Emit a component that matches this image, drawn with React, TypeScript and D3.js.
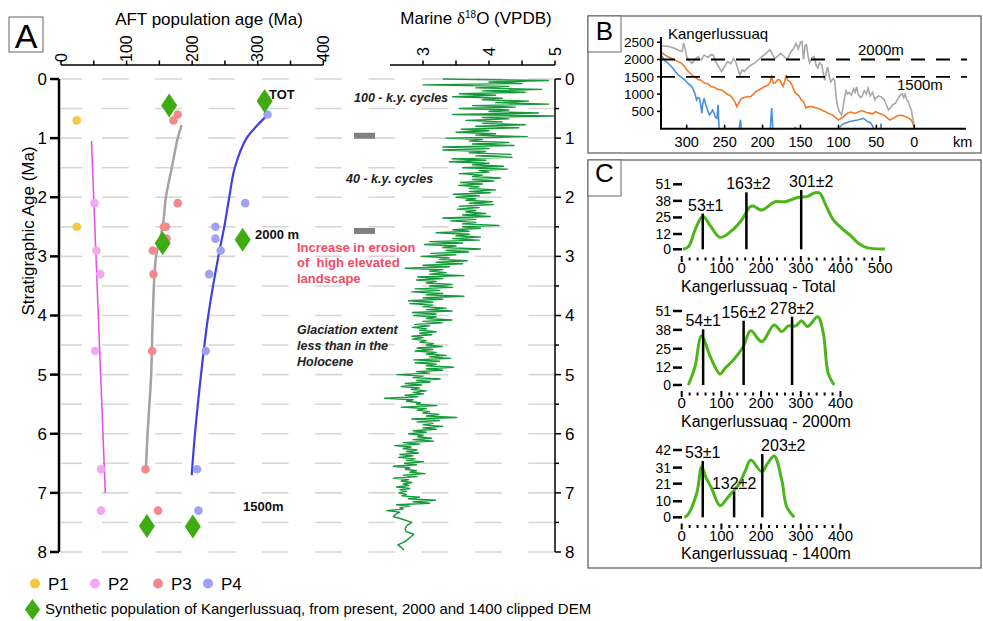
import React from 'react';
import * as d3 from 'd3';

const FONT = '"Liberation Sans", Arial, Helvetica, sans-serif';

// ---------- Panel A: AFT population age (Ma) vs stratigraphic age (Ma)
const p1Ages = [
  { aft: 24, strat: 0.7 },
  { aft: 24, strat: 2.5 },
];
const p2Ages = [
  { aft: 51, strat: 2.1 }, { aft: 54, strat: 2.9 }, { aft: 60, strat: 3.3 },
  { aft: 52, strat: 4.6 }, { aft: 61, strat: 6.6 }, { aft: 61, strat: 7.3 },
];
const p3Ages = [
  { aft: 178, strat: 0.6 }, { aft: 171.5, strat: 0.7 }, { aft: 178, strat: 2.1 },
  { aft: 157, strat: 2.5 }, { aft: 160, strat: 2.5 }, { aft: 161, strat: 2.7 },
  { aft: 140, strat: 2.9 }, { aft: 141, strat: 3.3 }, { aft: 139, strat: 4.6 },
  { aft: 129, strat: 6.6 }, { aft: 148, strat: 7.3 },
];
const p4Ages = [
  { aft: 315, strat: 0.6 }, { aft: 281, strat: 2.1 }, { aft: 235.5, strat: 2.5 },
  { aft: 235.5, strat: 2.7 }, { aft: 243.5, strat: 2.9 }, { aft: 226, strat: 3.3 },
  { aft: 220.7, strat: 4.6 }, { aft: 207.5, strat: 6.6 }, { aft: 209.5, strat: 7.3 },
];
const syntheticAges = [
  { aft: 165, strat: 0.45 }, { aft: 310.5, strat: 0.37 },
  { aft: 155, strat: 2.78 }, { aft: 277, strat: 2.72 },
  { aft: 131, strat: 7.56 }, { aft: 201, strat: 7.57 },
];
const trendP2 = [[46.5, 1.05], [67.5, 7.0]];
const trendP3 = [[184, 0.78], [178, 1.0], [169, 1.5], [160, 2.0], [155, 2.5], [145, 3.0], [140, 4.0], [137.5, 5.0], [132, 6.0], [129.4, 6.6]];
const trendP4 = [[314, 0.62], [298, 0.8], [283, 1.0], [265, 1.5], [256.6, 2.0], [249, 2.5], [240, 3.0], [224.6, 4.0], [213.5, 5.0], [204.3, 6.0], [199.3, 6.7]];

const aftTicks = [0, 100, 200, 300, 400];
const stratTicks = [0, 1, 2, 3, 4, 5, 6, 7, 8];

// Marine d18O (per mil VPDB), sampled every 0.025 Ma from 0 Ma
const d18oStep = 0.025;
const d18oValues = [
  3.3, 4.9, 4.0, 4.5, 3.0, 4.3, 3.8, 4.8, 3.9, 4.55, 3.55, 4.1, 3.45, 4.2, 3.9, 4.6,
  4.1, 4.9, 3.75, 4.4, 3.55, 4.3, 4.0, 4.75, 3.45, 4.98, 3.9, 4.3, 3.65, 4.2, 3.9, 4.55,
  3.8, 4.45, 3.58, 4.0, 3.5, 4.1, 3.8, 4.58, 3.35, 3.9, 3.7, 4.3, 3.75, 4.38, 3.3, 4.0,
  3.3, 3.95, 3.7, 4.33, 3.8, 4.35, 3.44, 3.95, 3.4, 4.0, 3.75, 4.22, 3.6, 4.28, 3.85, 4.0,
  3.55, 3.9, 3.75, 4.17, 3.75, 4.07, 3.57, 3.9, 3.54, 3.85, 3.7, 4.1, 3.7, 4.02, 3.46, 3.85,
  3.5, 3.8, 3.65, 4.05, 3.7, 4.07, 3.55, 3.85, 3.52, 3.8, 3.65, 3.95, 3.6, 4.02, 3.3, 3.8,
  3.42, 3.8, 3.6, 4.15, 3.6, 3.87, 3.45, 3.7, 3.2, 3.7, 3.5, 3.87, 3.45, 3.85, 3.1, 3.6,
  3.02, 3.5, 3.3, 3.87, 3.35, 3.69, 3.12, 3.5, 2.97, 3.4, 3.25, 3.67, 3.2, 3.6, 3.0, 3.4,
  2.73, 3.3, 3.1, 3.35, 3.1, 3.62, 2.92, 3.3, 2.9, 3.2, 3.05, 3.44, 3.1, 3.45, 2.88, 3.25,
  2.83, 3.3, 3.05, 3.62, 3.0, 3.3, 2.78, 3.15, 2.8, 3.15, 3.0, 3.35, 3.05, 3.44, 2.84, 3.2,
  2.86, 3.2, 3.05, 3.44, 3.0, 3.29, 2.88, 3.1, 2.84, 3.05, 2.95, 3.2, 2.95, 3.13, 2.83, 3.0,
  2.84, 3.05, 2.95, 3.16, 3.05, 3.29, 2.91, 3.15, 2.88, 3.2, 3.05, 3.35, 3.1, 3.42, 2.86, 3.25,
  2.88, 3.2, 3.05, 3.46, 3.05, 3.3, 2.9, 3.1, 2.6, 3.0, 2.85, 3.26, 2.9, 3.11, 2.73, 2.98,
  2.67, 2.95, 2.82, 3.05, 2.85, 3.01, 2.73, 2.92, 2.42, 2.85, 2.75, 2.96, 2.9, 3.21, 2.67, 3.05,
  2.91, 3.1, 3.0, 3.24, 3.05, 3.51, 2.83, 3.25, 2.91, 3.15, 3.0, 3.3, 3.0, 3.2, 2.85, 3.05,
  2.78, 3.0, 2.92, 3.13, 2.85, 3.16, 2.7, 2.95, 2.57, 2.82, 2.7, 2.91, 2.75, 2.93, 2.65, 2.85,
  2.63, 2.88, 2.75, 3.01, 2.72, 2.9, 2.55, 2.8, 2.73, 2.9, 2.8, 3.03, 2.7, 2.91, 2.55, 2.78,
  2.67, 2.83, 2.7, 2.78, 2.6, 2.8, 2.65, 2.75, 2.63, 2.75, 2.68, 2.95, 2.78, 3.19, 2.85, 3.1,
  2.6, 2.8, 2.65, 2.7, 2.45, 2.65,
];
const d18oTail = [[7.35, 2.6], [7.4, 2.55], [7.45, 2.7], [7.5, 2.83], [7.55, 2.76], [7.6, 2.73], [7.65, 2.74], [7.7, 2.86], [7.76, 2.8], [7.82, 2.73], [7.88, 2.62], [7.93, 2.68], [7.97, 2.71]];
const d18oTicks = [3, 4, 5];

// ---------- Panel B: elevation profiles (distance km, elevation m)
const profileGray = [[335, 2400], [325, 2380], [315, 2320], [310, 2260], [306, 2230], [304, 2480], [302, 2300], [300, 2080], [296, 1950], [293, 1890], [289, 2000], [285, 2080], [281, 1980], [277, 2130], [272, 2060], [268, 2140], [265, 2130], [261, 1900], [258, 1800], [254, 1650], [250, 1800], [246, 1940], [242, 1880], [238, 2030], [235, 1900], [232, 1700], [230, 1550], [227, 1700], [224, 1650], [220, 1760], [215, 1840], [210, 1900], [205, 2000], [201, 2080], [197, 2150], [193, 2230], [190, 2280], [187, 2150], [184, 2030], [180, 2100], [176, 2180], [172, 2100], [168, 2000], [165, 2100], [162, 2250], [159, 2320], [156, 2470], [153, 2300], [150, 2500], [148, 2520], [146, 2000], [144, 2400], [142, 2420], [140, 2100], [138, 1900], [135, 2050], [132, 2080], [129, 1800], [127, 1750], [125, 1900], [122, 1850], [120, 1600], [118, 1400], [116, 1650], [114, 1780], [112, 1500], [110, 1350], [107, 1450], [105, 1400], [103, 900], [101, 640], [99, 500], [96, 400], [94, 600], [92, 900], [90, 1100], [88, 1000], [86, 1050], [83, 970], [80, 1150], [78, 1050], [76, 1210], [74, 1000], [71, 900], [69, 930], [66, 1100], [63, 1000], [61, 1170], [58, 950], [55, 1050], [52, 830], [50, 900], [47, 950], [44, 920], [40, 850], [37, 700], [34, 540], [31, 620], [28, 700], [25, 730], [22, 850], [19, 950], [16, 1020], [14, 900], [12, 1000], [10, 830], [8, 780], [6, 650], [4, 540], [2, 300], [0, 50], [-1, -100]];
const profileOrange = [[335, 2250], [330, 2150], [325, 2080], [320, 2030], [315, 1980], [310, 1930], [307, 1890], [303, 1800], [300, 1700], [297, 1640], [293, 1550], [289, 1500], [285, 1420], [281, 1400], [277, 1320], [272, 1300], [268, 1220], [264, 1200], [260, 1150], [255, 1120], [251, 1080], [247, 1000], [243, 960], [240, 900], [237, 800], [234, 640], [231, 760], [228, 870], [224, 900], [220, 930], [216, 920], [212, 1000], [209, 1070], [205, 1120], [201, 1170], [197, 1220], [193, 1260], [190, 1350], [188, 1500], [186, 1320], [183, 1330], [180, 1420], [177, 1400], [175, 1300], [173, 1220], [171, 1350], [169, 1550], [167, 1400], [164, 1360], [161, 1250], [158, 1070], [155, 1000], [152, 950], [149, 830], [146, 780], [143, 600], [140, 630], [136, 640], [132, 620], [128, 590], [124, 560], [120, 520], [116, 480], [112, 430], [108, 400], [104, 330], [100, 250], [97, 300], [94, 330], [90, 420], [87, 460], [83, 480], [79, 440], [75, 470], [71, 510], [67, 510], [63, 470], [59, 450], [55, 430], [51, 490], [47, 450], [43, 420], [39, 370], [35, 300], [32, 250], [28, 300], [24, 350], [20, 380], [16, 390], [13, 360], [10, 330], [7, 300], [4, 250], [2, 150], [0, 30], [-1, -100]];
const profileBlue = [
  [[335, 2180], [330, 2000], [325, 1900], [320, 1790], [315, 1650], [311, 1550], [306, 1470], [302, 1400], [298, 1300], [295, 1250], [292, 1170], [289, 1000], [287, 830], [285, 900], [283, 880], [281, 600], [280, 440], [279, 700], [277, 880], [275, 700], [274, 640], [272, 500], [270, 400], [268, 450], [266, 540], [264, 450], [262, 330], [260, 300], [259, 600], [258.5, 690], [258, 300], [257, -100]],
  [[232, -100], [230, 100], [229, 260], [228, -100]],
  [[190, -100], [189, 300], [188, 600], [187, 200], [186, -100]],
  [[158, -100], [157, 50], [156, -100]],
  [[101, -100], [98, 50], [95, 120], [90, 170], [85, 210], [80, 230], [75, 250], [70, 280], [67, 300], [64, 250], [61, 200], [58, 180], [55, 80], [52, -100]],
  [[45, -100], [44, 150], [43, -100]],
];
const kmTicks = [0, 50, 100, 150, 200, 250, 300];
const elevTicks = [500, 1000, 1500, 2000, 2500];
const clipLevels = [2000, 1500];

// ---------- Panel C: age distributions (Ma vs density)
const kdeTotal = [[2.5, 0], [17, 2], [33.5, 15], [53, 26], [71, 19], [96.5, 9.4], [126, 14.6], [151, 23], [172, 33.4], [180, 34], [201.5, 30.8], [235, 37.3], [260, 37.3], [294, 40.8], [315, 41.3], [336, 44.4], [348, 44], [361, 36], [382, 23], [403, 16.5], [428, 10], [445, 4.7], [466, 1.3], [512, 0.3]];
const kde2000 = [[16.8, 0], [33.5, 12.6], [48.6, 33.8], [54.4, 32.2], [73.8, 18.4], [96.5, 7.6], [109, 11.5], [130, 17.2], [155, 26.4], [173.8, 37.4], [201.5, 29.9], [233, 41.4], [252, 36.8], [268.5, 40.7], [287, 40.7], [302, 44.3], [317, 40.3], [342.6, 47], [356.7, 35.6], [369, 8], [384, 0]];
const kde1400 = [[6.7, 0], [15, 1.4], [37.8, 15], [50.4, 31.6], [60.4, 25.3], [75.6, 18], [96.5, 7.3], [117.5, 12.9], [142.6, 20.1], [159.4, 28.5], [173.8, 35.7], [201.5, 28.5], [216.6, 33.7], [233, 38.2], [252, 23.3], [264.5, 6.6], [283.6, 0]];
const peaksTotal = [{ age: 53, top: 28, label: '53±1' }, { age: 163, top: 44.7, label: '163±2' }, { age: 301, top: 46.5, label: '301±2' }];
const peaks2000 = [{ age: 54, top: 38.4, label: '54±1' }, { age: 156, top: 44.3, label: '156±2' }, { age: 278, top: 47.1, label: '278±2' }];
const peaks1400 = [{ age: 53, top: 35.1, label: '53±1' }, { age: 132, top: 16, label: '132±2' }, { age: 203, top: 39.5, label: '203±2' }];
const densTicks51 = [0, 12, 25, 38, 51];
const densTicks42 = [0, 10, 21, 31, 42];

const diamond = 'M0,-12L8,0L0,12L-8,0Z';

function KdePlot({ data, peaks, yMax, yTicks, xMax, y0, y1, tickY, title, labelShift }: any) {
  const x = d3.scaleLinear().domain([0, 400]).range([681.7, 840.5]);
  const y = d3.scaleLinear().domain([0, yMax]).range([y0, y1]);
  const line = d3.line<number[]>().x(d => x(d[0])).y(d => y(d[1])).curve(d3.curveCatmullRom.alpha(0.5));
  const minor = d3.range(0, xMax + 1, 20);
  const major = d3.range(0, xMax + 1, 100);
  return (
    <g fontFamily={FONT}>
      {yTicks.map((t: number) => (
        <g key={t}>
          <line x1={673} x2={682} y1={y(t)} y2={y(t)} stroke="#000" strokeWidth={2.5} />
          <text x={671} y={y(t)} dy="0.35em" textAnchor="end" fontSize={14}>{t}</text>
        </g>
      ))}
      {minor.map(t => (
        <line key={t} x1={x(t)} x2={x(t)} y1={t % 100 === 0 ? tickY : tickY + 1.5} y2={tickY + (t % 100 === 0 ? 6 : 4.5)} stroke="#000" strokeWidth={2} />
      ))}
      {major.map(t => (
        <text key={t} x={x(t)} y={tickY + 17} textAnchor="middle" fontSize={15}>{t}</text>
      ))}
      <text x={681} y={tickY + 35.5} fontSize={16}>{title}</text>
      <path d={line(data) || ''} fill="none" stroke="#4cb51a" strokeWidth={3} />
      {peaks.map((p: any, i: number) => (
        <g key={p.label}>
          <line x1={x(p.age)} x2={x(p.age)} y1={y(0)} y2={y(p.top)} stroke="#000" strokeWidth={2.5} />
          <text x={x(p.age) + labelShift[i]} y={y(p.top) - 3} textAnchor="middle" fontSize={16}>{p.label}</text>
        </g>
      ))}
    </g>
  );
}

export default function App() {
  const yAge = d3.scaleLinear().domain([0, 8]).range([79, 552]);
  const xAft = d3.scaleLinear().domain([0, 400]).range([61, 323.3]);
  const xIso = d3.scaleLinear().domain([2.5, 5]).range([390, 555]);
  const xKm = d3.scaleLinear().domain([0, 300]).range([914.3, 686.7]);
  const yElev = d3.scaleLinear().domain([0, 2500]).range([128.7, 42.2]);

  const trendLine = d3.line<number[]>().x(d => xAft(d[0])).y(d => yAge(d[1])).curve(d3.curveCatmullRom.alpha(0.5));
  const d18oPoints = d18oValues.map((v, i) => [i * d18oStep, v]).concat(d18oTail);
  const isoLine = d3.line<number[]>().x(d => xIso(d[1])).y(d => yAge(d[0]));
  const profLine = d3.line<number[]>().x(d => xKm(d[0])).y(d => yElev(d[1]));

  const halfSteps = d3.range(0, 8.01, 0.5);
  const dotSeries = [
    { name: 'P1', data: p1Ages, color: '#f5c842' },
    { name: 'P2', data: p2Ages, color: '#f5a6f5' },
    { name: 'P3', data: p3Ages, color: '#f4898c' },
    { name: 'P4', data: p4Ages, color: '#9fa2f4' },
  ];
  const legendX = [35, 95, 158, 208];

  return (
    <svg width={983} height={621} style={{ position: 'absolute', left: 0, top: 0, background: '#fff' }} fontFamily={FONT}>
      <defs>
        <clipPath id="clipB">
          <rect x={661} y={20} width={310} height={108.7} />
        </clipPath>
      </defs>

      {/* ---------- Panel A ---------- */}
      <rect x={9} y={17} width={34} height={35} fill="#fff" stroke="#666" strokeWidth={1} />
      <text x={26} y={48} textAnchor="middle" fontSize={34}>A</text>

      {halfSteps.map(t => (
        <g key={t} stroke="#d6d6d6" strokeWidth={1.6}>
          <line x1={61} x2={82} y1={yAge(t)} y2={yAge(t)} />
          <line x1={102} x2={555} y1={yAge(t)} y2={yAge(t)} strokeDasharray="26.7 26.6" />
        </g>
      ))}

      {/* AFT top axis */}
      <text x={209} y={25} textAnchor="middle" fontSize={17}>AFT population age (Ma)</text>
      <line x1={61} x2={323.3} y1={65} y2={65} stroke="#000" strokeWidth={1.5} />
      {d3.range(0, 401, 50).map(t => (
        <line key={t} x1={xAft(t)} x2={xAft(t)} y1={60.5} y2={65} stroke="#000" strokeWidth={1.5} />
      ))}
      {aftTicks.map(t => (
        <text key={t} transform={`translate(${xAft(t) + 5.5},62) rotate(-90)`} fontSize={16}>{t}</text>
      ))}

      {/* stratigraphic axis */}
      <line x1={59} x2={59} y1={yAge(0)} y2={yAge(8)} stroke="#000" strokeWidth={2.5} />
      {stratTicks.map(t => (
        <g key={t}>
          <line x1={50} x2={59} y1={yAge(t)} y2={yAge(t)} stroke="#000" strokeWidth={2.5} />
          <text x={47} y={yAge(t)} dy="0.35em" textAnchor="end" fontSize={17}>{t}</text>
        </g>
      ))}
      <text transform="translate(34,231) rotate(-90)" textAnchor="middle" fontSize={17}>Stratigraphic Age (Ma)</text>

      {/* trends */}
      <path d={trendLine(trendP2) || ''} fill="none" stroke="#e24ee6" strokeWidth={1.5} />
      <path d={trendLine(trendP3) || ''} fill="none" stroke="#a3a3a3" strokeWidth={2.5} />
      <path d={trendLine(trendP4) || ''} fill="none" stroke="#3f3fe6" strokeWidth={2.2} />

      {dotSeries.map(s => s.data.map((d, i) => (
        <circle key={s.name + i} cx={xAft(d.aft)} cy={yAge(d.strat)} r={4.3} fill={s.color} />
      )))}
      {syntheticAges.map((d, i) => (
        <path key={i} d={diamond} transform={`translate(${xAft(d.aft)},${yAge(d.strat)})`} fill="#3fab12" />
      ))}

      <g fontSize={13} fontWeight="bold" fill="#111">
        <text x={269} y={99}>TOT</text>
        <text x={255} y={239}>2000 m</text>
        <text x={243} y={511}>1500m</text>
      </g>
      <g fontSize={12.5} fontWeight="bold" fontStyle="italic" fill="#222">
        <text x={354} y={101.5}>100 - k.y. cycles</text>
        <text x={346} y={183}>40 - k.y. cycles</text>
        <text x={297} y={334}>Glaciation extent</text>
        <text x={297} y={350}>less than in the</text>
        <text x={297} y={365.5}>Holocene</text>
      </g>
      <g fontSize={13} fontWeight="bold" fill="#f04b66">
        <text x={297} y={251.5}>Increase in erosion</text>
        <text x={297} y={267}>{'of\u00a0 high elevated'}</text>
        <text x={297} y={282.5}>landscape</text>
      </g>
      <rect x={354} y={yAge(0.96) - 3} width={21} height={6} fill="#808080" />
      <rect x={354} y={yAge(2.57) - 3} width={21} height={6} fill="#808080" />

      {/* d18O */}
      <text x={476} y={24} textAnchor="middle" fontSize={17}>
        Marine <tspan fontFamily='"Liberation Serif", serif'>δ</tspan>
        <tspan fontSize={10} dy={-6}>18</tspan>
        <tspan dy={6}>O (VPDB)</tspan>
      </text>
      <line x1={390} x2={555} y1={65} y2={65} stroke="#000" strokeWidth={1.5} />
      {d3.range(3, 5.01, 0.5).map(t => (
        <line key={t} x1={xIso(t)} x2={xIso(t)} y1={60.5} y2={65} stroke="#000" strokeWidth={1.5} />
      ))}
      {d18oTicks.map(t => (
        <text key={t} transform={`translate(${xIso(t) + 5.5},56) rotate(-90)`} fontSize={16}>{t}</text>
      ))}
      <path d={isoLine(d18oPoints) || ''} fill="none" stroke="#15993b" strokeWidth={1.4} strokeLinejoin="round" />
      <line x1={555} x2={555} y1={yAge(0)} y2={yAge(8)} stroke="#000" strokeWidth={1.5} />
      {halfSteps.map(t => (
        <line key={t} x1={555} x2={t % 1 === 0 ? 561 : 559} y1={yAge(t)} y2={yAge(t)} stroke="#000" strokeWidth={1.5} />
      ))}
      {stratTicks.map(t => (
        <text key={t} x={565} y={yAge(t)} dy="0.35em" fontSize={17}>{t}</text>
      ))}

      {/* legend */}
      {dotSeries.map((s, i) => (
        <g key={s.name}>
          <circle cx={legendX[i]} cy={583.5} r={5} fill={s.color} />
          <text x={legendX[i] + 13} y={590} fontSize={17}>{s.name}</text>
        </g>
      ))}
      <path d={diamond} transform="translate(32.5,609.5) scale(0.95,0.88)" fill="#3fab12" />
      <text x={45} y={614} fontSize={15}>Synthetic population of Kangerlussuaq, from present, 2000 and 1400 clipped DEM</text>

      {/* ---------- Panel B ---------- */}
      <rect x={588} y={16} width={393} height={137} fill="none" stroke="#666" strokeWidth={1.3} />
      <rect x={588} y={16} width={33} height={36} fill="#fff" stroke="#666" strokeWidth={1} />
      <text x={604.5} y={40} textAnchor="middle" fontSize={26}>B</text>
      <g clipPath="url(#clipB)">
        <path d={profLine(profileGray) || ''} fill="none" stroke="#a8a8a8" strokeWidth={1.6} />
        <path d={profLine(profileOrange) || ''} fill="none" stroke="#f07a28" strokeWidth={1.6} />
        {profileBlue.map((seg, i) => (
          <path key={i} d={profLine(seg) || ''} fill="none" stroke="#4a8fd8" strokeWidth={1.6} />
        ))}
      </g>
      {clipLevels.map(l => (
        <line key={l} x1={661} x2={967} y1={yElev(l)} y2={yElev(l)} stroke="#000" strokeWidth={1.8} strokeDasharray="14 11" />
      ))}
      <line x1={661} x2={661} y1={yElev(2650)} y2={yElev(0)} stroke="#000" strokeWidth={2} />
      <line x1={660} x2={966} y1={yElev(0)} y2={yElev(0)} stroke="#000" strokeWidth={2} />
      {elevTicks.map(t => (
        <g key={t}>
          <line x1={657} x2={661} y1={yElev(t)} y2={yElev(t)} stroke="#000" strokeWidth={1.5} />
          <text x={654} y={yElev(t)} dy="0.35em" textAnchor="end" fontSize={13.5}>{t}</text>
        </g>
      ))}
      {kmTicks.map(t => (
        <g key={t}>
          <line x1={xKm(t)} x2={xKm(t)} y1={yElev(0) - 4} y2={yElev(0)} stroke="#000" strokeWidth={1.5} />
          <text x={xKm(t)} y={147} textAnchor="middle" fontSize={14.5}>{t}</text>
        </g>
      ))}
      <text x={953} y={147} fontSize={14.5}>km</text>
      <text x={668} y={39} fontSize={15}>Kangerlussuaq</text>
      <text x={858} y={54.5} fontSize={15}>2000m</text>
      <text x={897} y={90} fontSize={15}>1500m</text>

      {/* ---------- Panel C ---------- */}
      <rect x={588} y={160} width={393} height={408} fill="none" stroke="#666" strokeWidth={1.3} />
      <rect x={588} y={160} width={33} height={36} fill="#fff" stroke="#666" strokeWidth={1} />
      <text x={604.5} y={182} textAnchor="middle" fontSize={26}>C</text>
      <KdePlot data={kdeTotal} peaks={peaksTotal} yMax={51} yTicks={densTicks51} xMax={500}
        y0={249.3} y1={184.3} tickY={256} title="Kangerlussuaq - Total" labelShift={[3, 2, 10]} />
      <KdePlot data={kde2000} peaks={peaks2000} yMax={51} yTicks={densTicks51} xMax={400}
        y0={385} y1={311} tickY={391} title="Kangerlussuaq - 2000m" labelShift={[0, 0, 0]} />
      <KdePlot data={kde1400} peaks={peaks1400} yMax={42} yTicks={densTicks42} xMax={400}
        y0={517.3} y1={450} tickY={523.5} title="Kangerlussuaq - 1400m" labelShift={[0, 0, 21]} />
    </svg>
  );
}
